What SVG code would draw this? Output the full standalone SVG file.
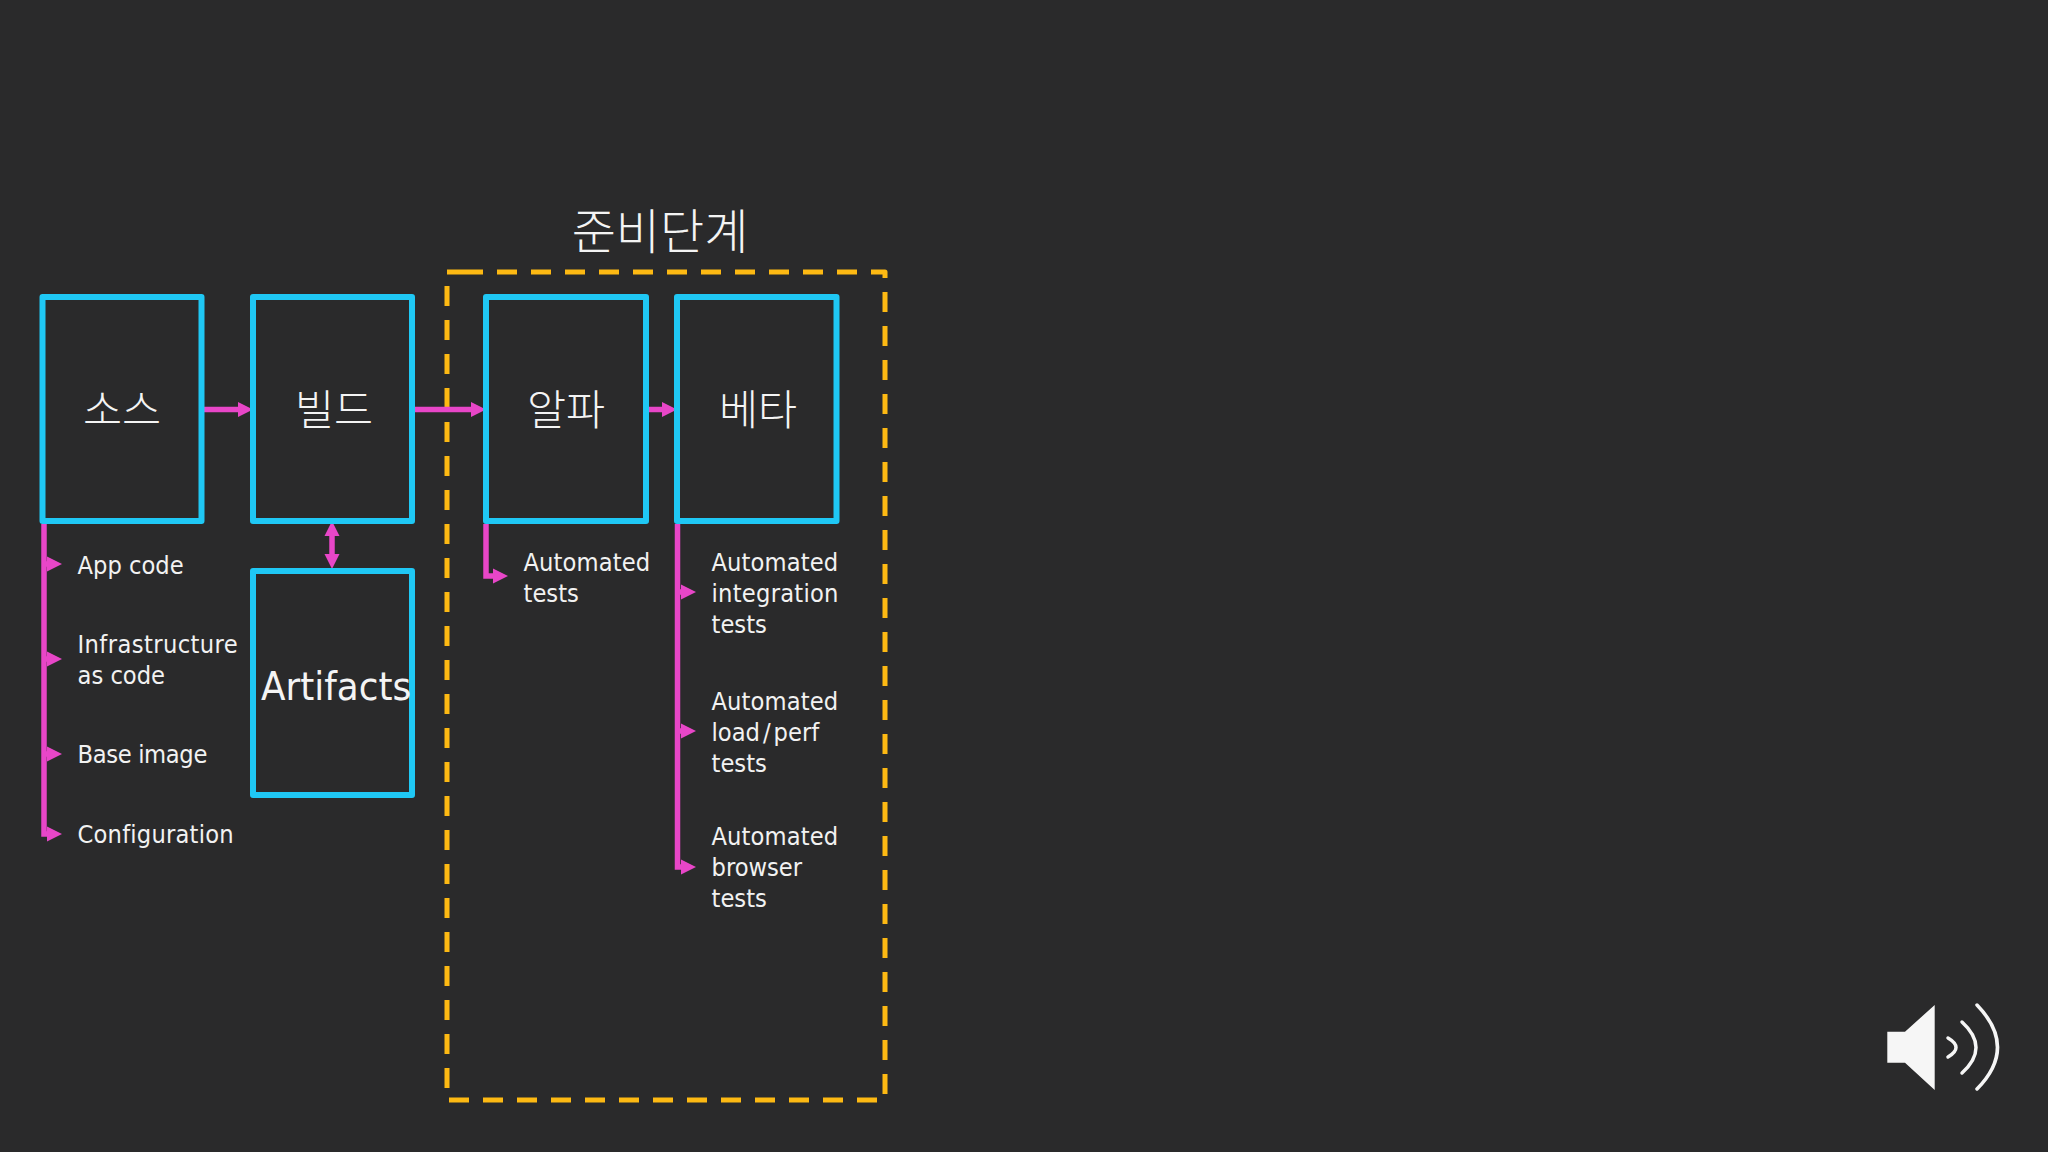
<svg xmlns="http://www.w3.org/2000/svg" width="2048" height="1152" viewBox="0 0 2048 1152">
<style>
.box{fill:none;stroke:#1fc8f5;stroke-width:6;stroke-linejoin:round}
.kr{font-family:"Noto Sans CJK KR","Noto Sans",sans-serif;font-weight:300;fill:#f4f4f4;text-anchor:middle}
.lbl{font-size:42.500px}
.t{font-family:"DejaVu Sans Condensed","DejaVu Sans",sans-serif;font-stretch:condensed;font-size:25.200px;fill:#f2f2f2}
.c{fill:none;stroke:#e846c8;stroke-width:5.500}
.a{marker-end:url(#h)}
.w{fill:none;stroke:#f6f6f6;stroke-width:3.500;stroke-linecap:round}
</style>
<defs>
<marker id="h" markerUnits="userSpaceOnUse" markerWidth="15" markerHeight="16" refX="0" refY="8" orient="auto-start-reverse"><path d="M0,0.500L15,8L0,15.500z" fill="#e846c8"/></marker>
</defs>
<rect width="2048" height="1152" fill="#2a2a2b"/>
<g id="stage">
<path d="M463,272H885V1100H447V272H463" fill="none" stroke="#fdb913" stroke-width="5" stroke-dasharray="20 14" stroke-linejoin="round"/>
<text class="kr" x="660" y="248.500" font-size="48">준비단계</text>
</g>
<g id="connectors">
<path class="c a" d="M204,409.500H238"/>
<path class="c a" d="M412,409.500H471"/>
<path class="c a" d="M646,409.500H662"/>
<path class="c" d="M332,536V554" marker-start="url(#h)" marker-end="url(#h)"/>
<path class="c" d="M44,524V834H47" marker-end="url(#h)"/>
<path class="c a" d="M44,564H47"/>
<path class="c a" d="M44,659H47"/>
<path class="c a" d="M44,754H47"/>
<path class="c" d="M486,524V576H493" marker-end="url(#h)"/>
<path class="c" d="M677.500,524V867H681" marker-end="url(#h)"/>
<path class="c a" d="M677.500,592H681"/>
<path class="c a" d="M677.500,731H681"/>
</g>
<g id="source"><rect class="box" x="42.500" y="297" width="159" height="224"/><text class="kr lbl" x="122" y="425">소스</text></g>
<g id="build"><rect class="box" x="253" y="297" width="159" height="224"/><text class="kr lbl" x="334" y="425">빌드</text></g>
<g id="artifacts"><rect class="box" x="253" y="571" width="159" height="224"/><text x="261" y="700" font-family="DejaVu Sans Condensed,DejaVu Sans,sans-serif" style="font-stretch:condensed" font-size="39.800" fill="#f4f4f4">Artifacts</text></g>
<g id="alpha"><rect class="box" x="486" y="297" width="160" height="224"/><text class="kr lbl" x="566" y="425">알파</text></g>
<g id="beta"><rect class="box" x="677" y="297" width="159.500" height="224"/><text class="kr lbl" x="758" y="425">베타</text></g>
<g id="source-items">
<text class="t" x="77.500" y="573.500">App code</text>
<text class="t" x="77.500" y="653" style="letter-spacing:.4px">Infrastructure</text>
<text class="t" x="77.500" y="684">as code</text>
<text class="t" x="77.500" y="763" style="letter-spacing:-.35px">Base image</text>
<text class="t" x="77.500" y="842.500" style="letter-spacing:.2px">Configuration</text>
</g>
<g id="alpha-items">
<text class="t" x="523.500" y="570.500" style="letter-spacing:.1px">Automated</text>
<text class="t" x="523.500" y="601.500">tests</text>
</g>
<g id="beta-items">
<text class="t" x="711.500" y="570.500" style="letter-spacing:.1px">Automated</text>
<text class="t" x="711.500" y="601.500" style="letter-spacing:.25px">integration</text>
<text class="t" x="711.500" y="632.500">tests</text>
<text class="t" x="711.500" y="709.500" style="letter-spacing:.1px">Automated</text>
<text class="t" x="711.500" y="740.500"><tspan>load</tspan><tspan dx="3">/</tspan><tspan dx="3">perf</tspan></text>
<text class="t" x="711.500" y="771.500">tests</text>
<text class="t" x="711.500" y="844.500" style="letter-spacing:.1px">Automated</text>
<text class="t" x="711.500" y="875.500">browser</text>
<text class="t" x="711.500" y="906.500">tests</text>
</g>
<g id="speaker">
<path d="M1887.300,1031.700H1905L1934.700,1005V1090L1905,1062.700H1887.300z" fill="#f6f6f6"/>
<path class="w" d="M1948,1038Q1964,1047.500 1948,1057"/>
<path class="w" d="M1962,1022Q1990,1047.500 1962,1073"/>
<path class="w" d="M1977,1005Q2018,1047.500 1977,1089"/>
</g>
</svg>
